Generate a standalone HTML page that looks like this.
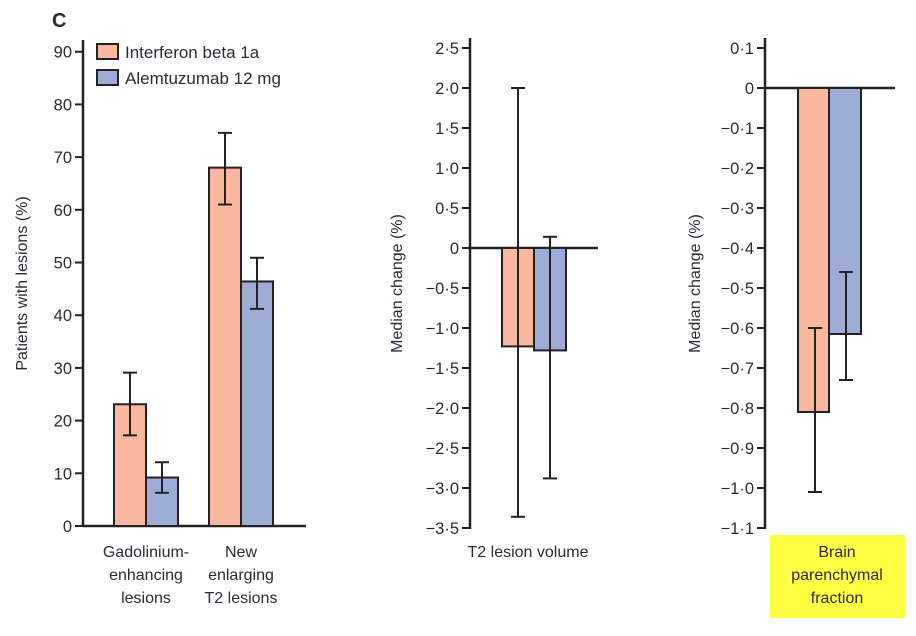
<!DOCTYPE html>
<html><head><meta charset="utf-8"><style>
body{margin:0;background:#fff;width:916px;height:631px;overflow:hidden}
text{font-family:"Liberation Sans",sans-serif;fill:#2a2a3a}
</style></head><body>
<svg id="c" width="916" height="631" xmlns="http://www.w3.org/2000/svg">
<text x="52" y="27" font-size="20" font-weight="bold">C</text>
<rect x="770" y="535" width="135" height="83" fill="#ffff44"/>
</svg>
<script>
const cats1=["Gadolinium-enhancing lesions","New enlarging T2 lesions"];
const ifn1=[23.1,68.0];const ifnLo1=[17.2,61.0];const ifnHi1=[29.1,74.6];
const alm1=[9.2,46.4];const almLo1=[6.3,41.2];const almHi1=[12.1,50.9];
const ticks1=[0,10,20,30,40,50,60,70,80,90];
const t2=[-1.23,-1.28];const t2Lo=[-3.36,-2.88];const t2Hi=[2.0,0.14];
const ticks2=[-3.5,-3,-2.5,-2,-1.5,-1,-0.5,0,0.5,1,1.5,2,2.5];
const bpf=[-0.81,-0.615];const bpfLo=[-1.01,-0.73];const bpfHi=[-0.60,-0.46];
const ticks3=[-1.1,-1,-0.9,-0.8,-0.7,-0.6,-0.5,-0.4,-0.3,-0.2,-0.1,0,0.1];
const C1="#f9b89e",C2="#9dacd6",K="#222";
const svg=document.getElementById('c');const NS="http://www.w3.org/2000/svg";
function el(t,a,p){const e=document.createElementNS(NS,t);for(const k in a)e.setAttribute(k,a[k]);(p||svg).appendChild(e);return e;}
function fmt(v,d){if(v===0)return"0";let s=v.toFixed(d);return s.replace('-','\u2212').replace('.','\u00b7');}
function axis(x,ticks,y,top,bot,title,tx,d){
 const a=el('line',{x1:x,y1:top,x2:x,y2:bot,stroke:K,'stroke-width':2.5});
 
 ticks.forEach(v=>{el('line',{x1:x-8,y1:y(v),x2:x,y2:y(v),stroke:K,'stroke-width':2});
  const t=el('text',{x:x-11,y:y(v)+6,'font-size':16.5,'text-anchor':'end'});t.textContent=fmt(v,d);
  });
 const yt=el('text',{x:tx,y:(top+bot)/2,'font-size':16,'text-anchor':'middle',transform:`rotate(-90 ${tx} ${(top+bot)/2})`});
 yt.textContent=title;
}
function bar(x,w,y0,yv,col,name){const t=Math.min(y0,yv),h=Math.abs(yv-y0);
 const r=el('rect',{x:x,y:t,width:w,height:h,fill:col,stroke:K,'stroke-width':2});
 }
function err(x,y1,y2,name){const g=el('g',{stroke:K,'stroke-width':2});
 
 el('line',{x1:x,y1:y1,x2:x,y2:y2},g);el('line',{x1:x-7,y1:y1,x2:x+7,y2:y1},g);el('line',{x1:x-7,y1:y2,x2:x+7,y2:y2},g);}
// Panel 1
const y1=v=>526-v*5.27;
axis(83,ticks1,y1,40,527,"Patients with lesions (%)",27,0);
el('line',{x1:83,y1:526,x2:306,y2:526,stroke:K,'stroke-width':2.5});
const gx=[114,209];
cats1.forEach((c,i)=>{bar(gx[i],32,y1(0),y1(ifn1[i]),C1,'bar-interferon-'+i);bar(gx[i]+32,32,y1(0),y1(alm1[i]),C2,'bar-alemtuzumab-'+i);
 err(gx[i]+16,y1(ifnHi1[i]),y1(ifnLo1[i]),'error-bar-interferon-'+i);err(gx[i]+48,y1(almHi1[i]),y1(almLo1[i]),'error-bar-alemtuzumab-'+i);});
[["Gadolinium-","enhancing","lesions"],["New","enlarging","T2 lesions"]].forEach((ls,i)=>ls.forEach((l,j)=>{
 const t=el('text',{x:gx[i]+32,y:557+j*23,'font-size':16,'text-anchor':'middle'});t.textContent=l;
 }));
// legend
[["Interferon beta 1a",C1,44],["Alemtuzumab 12 mg",C2,70]].forEach(d=>{
 const r=el('rect',{x:97,y:d[2],width:21,height:15,fill:d[1],stroke:K,'stroke-width':2});
 
 const t=el('text',{x:125,y:d[2]+14,'font-size':17});t.textContent=d[0];
 });
// Panel 2
const y2=v=>248-v*80;
axis(470,ticks2,y2,38,529,"Median change (%)",402,1);
el('line',{x1:470,y1:y2(0),x2:598,y2:y2(0),stroke:K,'stroke-width':2.5});
bar(502,32,y2(0),y2(t2[0]),C1,'bar-t2-interferon');bar(534,32,y2(0),y2(t2[1]),C2,'bar-t2-alemtuzumab');
err(518,y2(t2Hi[0]),y2(t2Lo[0]),'error-bar-t2-interferon');err(550,y2(t2Hi[1]),y2(t2Lo[1]),'error-bar-t2-alemtuzumab');
let t=el('text',{x:528,y:557,'font-size':16,'text-anchor':'middle'});t.textContent="T2 lesion volume";

// Panel 3
const y3=v=>88-v*400;
axis(765,ticks3,y3,38,529,"Median change (%)",700,1);
el('line',{x1:765,y1:y3(0),x2:895,y2:y3(0),stroke:K,'stroke-width':2.5});
bar(798,31,y3(0),y3(bpf[0]),C1,'bar-bpf-interferon');bar(829,32,y3(0),y3(bpf[1]),C2,'bar-bpf-alemtuzumab');
err(815,y3(bpfHi[0]),y3(bpfLo[0]),'error-bar-bpf-interferon');err(846,y3(bpfHi[1]),y3(bpfLo[1]),'error-bar-bpf-alemtuzumab');
["Brain","parenchymal","fraction"].forEach((l,j)=>{const t=el('text',{x:837,y:557+j*23,'font-size':16,'text-anchor':'middle'});t.textContent=l;
 });
</script>
</body></html>
